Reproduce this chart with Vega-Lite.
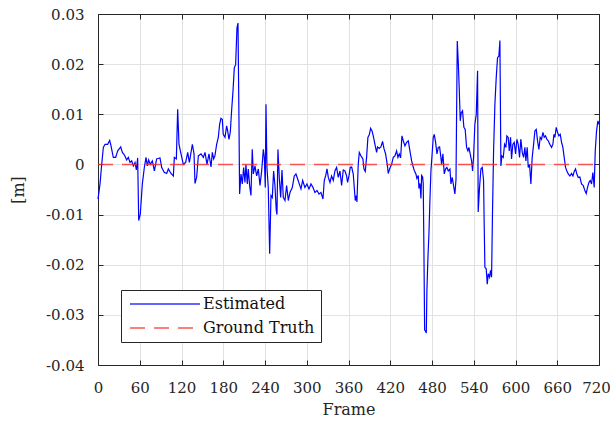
{
  "$schema": "https://vega.github.io/schema/vega-lite/v6.json",
  "autosize": "none",
  "width": 501,
  "height": 351,
  "padding": {"left": 98, "top": 14, "right": 11, "bottom": 58},
  "background": "white",
  "config": {
    "font": "DejaVu Serif",
    "view": {"stroke": null},
    "axis": {
      "labelFont": "DejaVu Serif",
      "titleFont": "DejaVu Serif",
      "labelFontSize": 15,
      "titleFontSize": 16,
      "titleFontWeight": "normal",
      "labelColor": "#262626",
      "titleColor": "#262626",
      "domainColor": "#262626",
      "tickColor": "#262626",
      "gridColor": "#e2e2e2",
      "gridWidth": 1,
      "tickSize": -5,
      "domainWidth": 1
    },
    "legend": {
      "labelFont": "DejaVu Serif",
      "labelFontSize": 16,
      "labelColor": "#111111"
    }
  },
  "datasets": {
    "estimated": [
      {"frame": 0, "value": -0.0069}, {"frame": 2.9, "value": -0.0039}, {"frame": 5.3, "value": 0.0}, {"frame": 7.7, "value": 0.0034},
      {"frame": 10.1, "value": 0.004}, {"frame": 13.9, "value": 0.004}, {"frame": 16.8, "value": 0.0048}, {"frame": 18.7, "value": 0.0037},
      {"frame": 22, "value": 0.0014}, {"frame": 25.4, "value": 0.0014}, {"frame": 28.3, "value": 0.0027}, {"frame": 32.6, "value": 0.0035},
      {"frame": 35, "value": 0.0024}, {"frame": 37.9, "value": 0.0019}, {"frame": 41.2, "value": 0.0009}, {"frame": 43.6, "value": 0.0014},
      {"frame": 46, "value": 0.0004}, {"frame": 48.4, "value": 0.0007}, {"frame": 50.8, "value": -0.0003}, {"frame": 53.2, "value": 0.0004},
      {"frame": 55.1, "value": -0.0011}, {"frame": 57, "value": 0.0013}, {"frame": 58.5, "value": -0.0112}, {"frame": 60.8, "value": -0.0099},
      {"frame": 63.7, "value": -0.0039}, {"frame": 66.6, "value": -0.0006}, {"frame": 69, "value": 0.0014}, {"frame": 70.9, "value": -0.0003},
      {"frame": 72.8, "value": 0.0009}, {"frame": 75.2, "value": 0.0}, {"frame": 78.1, "value": 0.0007}, {"frame": 81, "value": -0.0013},
      {"frame": 84.3, "value": 0.0011}, {"frame": 89.1, "value": 0.0013}, {"frame": 91.5, "value": -0.0006}, {"frame": 95.3, "value": -0.0016},
      {"frame": 98.7, "value": -0.0018}, {"frame": 101.1, "value": -0.0009}, {"frame": 104.9, "value": -0.0018}, {"frame": 108.3, "value": -0.0023},
      {"frame": 109.7, "value": 0.0014}, {"frame": 112.6, "value": 0.0011}, {"frame": 114.5, "value": 0.011}, {"frame": 116.4, "value": 0.004},
      {"frame": 119.3, "value": 0.0021}, {"frame": 122.6, "value": 0.0}, {"frame": 126, "value": 0.0004}, {"frame": 128.9, "value": 0.0024},
      {"frame": 131.3, "value": 0.0004}, {"frame": 135.6, "value": 0.004}, {"frame": 138, "value": 0.0021}, {"frame": 139.4, "value": -0.0038},
      {"frame": 141.8, "value": -0.0025}, {"frame": 144.2, "value": 0.0017}, {"frame": 148, "value": 0.0021}, {"frame": 151.4, "value": 0.0014},
      {"frame": 153.8, "value": 0.0024}, {"frame": 156.6, "value": 0.0}, {"frame": 159.5, "value": 0.0021}, {"frame": 162.4, "value": -0.0005},
      {"frame": 164.3, "value": 0.0024}, {"frame": 166.2, "value": 0.0011}, {"frame": 168, "value": 0.0017}, {"frame": 170.5, "value": 0.004},
      {"frame": 172.9, "value": 0.0054}, {"frame": 174.8, "value": 0.008}, {"frame": 176.7, "value": 0.0092}, {"frame": 178.6, "value": 0.009},
      {"frame": 180, "value": 0.006}, {"frame": 182.5, "value": 0.0054}, {"frame": 184.9, "value": 0.0077}, {"frame": 186.3, "value": 0.0067},
      {"frame": 188.2, "value": 0.005}, {"frame": 190.1, "value": 0.0064}, {"frame": 192, "value": 0.0107}, {"frame": 194, "value": 0.0146},
      {"frame": 195.9, "value": 0.0193}, {"frame": 197.8, "value": 0.0199}, {"frame": 199.7, "value": 0.0272}, {"frame": 201.2, "value": 0.0282},
      {"frame": 202.6, "value": 0.0087}, {"frame": 203.5, "value": -0.0059}, {"frame": 205.5, "value": -0.0019}, {"frame": 207.4, "value": -0.0039},
      {"frame": 209.3, "value": -0.0006}, {"frame": 211.2, "value": -0.0036}, {"frame": 212.6, "value": 0.0}, {"frame": 214.6, "value": -0.0039},
      {"frame": 216, "value": -0.0009}, {"frame": 217.9, "value": -0.0042}, {"frame": 219.8, "value": -0.0062}, {"frame": 221.7, "value": 0.003},
      {"frame": 223.2, "value": -0.0019}, {"frame": 225.6, "value": -0.0003}, {"frame": 228, "value": -0.0023}, {"frame": 230.4, "value": -0.0009},
      {"frame": 232.8, "value": -0.0042}, {"frame": 235.2, "value": -0.0013}, {"frame": 237.6, "value": 0.003}, {"frame": 239, "value": 0.0014},
      {"frame": 240.4, "value": -0.0046}, {"frame": 241.4, "value": 0.012}, {"frame": 242.8, "value": -0.0006}, {"frame": 244.7, "value": -0.0046},
      {"frame": 246.7, "value": -0.0178}, {"frame": 248.6, "value": -0.0062}, {"frame": 250.5, "value": -0.0066}, {"frame": 252.4, "value": -0.0013},
      {"frame": 254.3, "value": -0.0042}, {"frame": 256.2, "value": -0.0092}, {"frame": 257.2, "value": -0.01}, {"frame": 258.6, "value": 0.003},
      {"frame": 260.5, "value": -0.0026}, {"frame": 262.5, "value": -0.0066}, {"frame": 264.4, "value": -0.0011}, {"frame": 266.3, "value": -0.0066},
      {"frame": 268.7, "value": -0.0072}, {"frame": 271.1, "value": -0.0042}, {"frame": 273.5, "value": -0.0072}, {"frame": 275.9, "value": -0.0056},
      {"frame": 279.2, "value": -0.0046}, {"frame": 282.1, "value": -0.0023}, {"frame": 284.5, "value": -0.0019}, {"frame": 286.9, "value": -0.0029},
      {"frame": 289.3, "value": -0.0039}, {"frame": 291.7, "value": -0.0049}, {"frame": 294.1, "value": -0.0032}, {"frame": 297.4, "value": -0.0046},
      {"frame": 300.3, "value": -0.0039}, {"frame": 303.2, "value": -0.0049}, {"frame": 306.1, "value": -0.0039}, {"frame": 309, "value": -0.0046},
      {"frame": 311.8, "value": -0.0056}, {"frame": 314.7, "value": -0.0052}, {"frame": 317.6, "value": -0.0059}, {"frame": 320.4, "value": -0.0056},
      {"frame": 323.3, "value": -0.0069}, {"frame": 325.2, "value": -0.0032}, {"frame": 327.1, "value": -0.0023}, {"frame": 329.1, "value": -0.0009},
      {"frame": 331, "value": -0.0026}, {"frame": 333.4, "value": -0.0036}, {"frame": 335.7, "value": -0.0023}, {"frame": 338.1, "value": -0.0032},
      {"frame": 340.5, "value": -0.0013}, {"frame": 342.9, "value": -0.0006}, {"frame": 345.3, "value": -0.0026}, {"frame": 347.7, "value": -0.0013},
      {"frame": 350.1, "value": -0.0042}, {"frame": 352.5, "value": -0.0011}, {"frame": 354.9, "value": -0.0013}, {"frame": 357.3, "value": -0.0023},
      {"frame": 358.7, "value": -0.0036}, {"frame": 360.6, "value": -0.0023}, {"frame": 362.5, "value": -0.0006}, {"frame": 364.5, "value": -0.0005},
      {"frame": 366.8, "value": -0.0019}, {"frame": 368.3, "value": -0.0046}, {"frame": 369.7, "value": -0.0072}, {"frame": 371.2, "value": -0.0062},
      {"frame": 372.1, "value": -0.0075}, {"frame": 374, "value": 0.0}, {"frame": 375.5, "value": 0.0024}, {"frame": 377.9, "value": 0.0017},
      {"frame": 380.7, "value": 0.0011}, {"frame": 382.2, "value": -0.0009}, {"frame": 384.1, "value": -0.0014}, {"frame": 386, "value": 0.0014},
      {"frame": 387.9, "value": 0.0054}, {"frame": 389.8, "value": 0.0059}, {"frame": 391.8, "value": 0.0072}, {"frame": 393.7, "value": 0.0067},
      {"frame": 395.6, "value": 0.0057}, {"frame": 398, "value": 0.004}, {"frame": 400.4, "value": 0.0024}, {"frame": 401.8, "value": 0.0035},
      {"frame": 404.2, "value": 0.0032}, {"frame": 406.6, "value": 0.0035}, {"frame": 409, "value": 0.0046}, {"frame": 410.9, "value": 0.0032},
      {"frame": 413.3, "value": 0.0021}, {"frame": 415.7, "value": 0.0}, {"frame": 417.1, "value": -0.0018}, {"frame": 419.1, "value": -0.0009},
      {"frame": 421.9, "value": 0.0}, {"frame": 424.3, "value": 0.0014}, {"frame": 426.7, "value": 0.0017}, {"frame": 429.1, "value": 0.0027},
      {"frame": 431, "value": 0.0014}, {"frame": 432.9, "value": 0.0021}, {"frame": 434.9, "value": 0.0013}, {"frame": 436.8, "value": 0.0057},
      {"frame": 438.7, "value": 0.0047}, {"frame": 441.1, "value": 0.0037}, {"frame": 443.5, "value": 0.0044}, {"frame": 445.9, "value": 0.0047},
      {"frame": 448.3, "value": 0.0027}, {"frame": 450.7, "value": 0.0007}, {"frame": 452.6, "value": -0.0003}, {"frame": 454.5, "value": -0.0012},
      {"frame": 456.9, "value": -0.0019}, {"frame": 458.3, "value": -0.0028}, {"frame": 460.3, "value": -0.0022}, {"frame": 461.2, "value": -0.0048},
      {"frame": 462.7, "value": -0.0038}, {"frame": 464.1, "value": -0.0068}, {"frame": 465.1, "value": -0.0022}, {"frame": 466.5, "value": -0.0025},
      {"frame": 467.4, "value": -0.0038}, {"frame": 468.4, "value": -0.0171}, {"frame": 469.4, "value": -0.033}, {"frame": 470.8, "value": -0.0333},
      {"frame": 471.8, "value": -0.0336}, {"frame": 472.7, "value": -0.025}, {"frame": 474.2, "value": -0.0184}, {"frame": 475.6, "value": -0.0138},
      {"frame": 477, "value": -0.0072}, {"frame": 478.5, "value": -0.0012}, {"frame": 479.9, "value": 0.0015}, {"frame": 481.8, "value": 0.0054},
      {"frame": 483.2, "value": 0.006}, {"frame": 485.2, "value": 0.0044}, {"frame": 487.1, "value": 0.0021}, {"frame": 489, "value": 0.0034},
      {"frame": 490.9, "value": 0.0035}, {"frame": 492.8, "value": 0.0014}, {"frame": 493.8, "value": 0.0}, {"frame": 495.7, "value": 0.0021},
      {"frame": 497.6, "value": -0.0019}, {"frame": 499.5, "value": -0.0009}, {"frame": 501.4, "value": -0.0006}, {"frame": 503.4, "value": -0.0013},
      {"frame": 505.8, "value": -0.0009}, {"frame": 507.2, "value": -0.0039}, {"frame": 509.1, "value": -0.0026}, {"frame": 510.6, "value": -0.0039},
      {"frame": 512.9, "value": -0.0059}, {"frame": 514.5, "value": -0.003}, {"frame": 516.3, "value": 0.0246}, {"frame": 517.7, "value": 0.0206},
      {"frame": 519.1, "value": 0.0153}, {"frame": 520.6, "value": 0.0087}, {"frame": 522, "value": 0.0103}, {"frame": 523.9, "value": 0.0107},
      {"frame": 525.8, "value": 0.0074}, {"frame": 527.7, "value": 0.007}, {"frame": 529.7, "value": 0.0034}, {"frame": 531.6, "value": 0.0027},
      {"frame": 533, "value": 0.0034}, {"frame": 534.9, "value": 0.0021}, {"frame": 536.9, "value": 0.0007}, {"frame": 538.3, "value": -0.0013},
      {"frame": 539.7, "value": 0.0014}, {"frame": 541.6, "value": 0.008}, {"frame": 543.6, "value": 0.01}, {"frame": 545.5, "value": 0.0187},
      {"frame": 546.4, "value": -0.0095}, {"frame": 548.3, "value": -0.0046}, {"frame": 550.3, "value": -0.0009}, {"frame": 552.2, "value": -0.0006},
      {"frame": 554.1, "value": -0.0032}, {"frame": 555, "value": -0.0119}, {"frame": 556, "value": -0.0205}, {"frame": 557.9, "value": -0.0208},
      {"frame": 559.4, "value": -0.0239}, {"frame": 560.8, "value": -0.0218}, {"frame": 562.7, "value": -0.0225}, {"frame": 564.2, "value": -0.0211},
      {"frame": 565.6, "value": -0.0225}, {"frame": 567, "value": -0.0092}, {"frame": 568.5, "value": 0.0027}, {"frame": 570.4, "value": 0.012},
      {"frame": 572.3, "value": 0.0173}, {"frame": 574.2, "value": 0.0213}, {"frame": 576.1, "value": 0.0216}, {"frame": 577.6, "value": 0.0247},
      {"frame": 579, "value": -0.0003}, {"frame": 580.4, "value": 0.0017}, {"frame": 582.4, "value": 0.0014}, {"frame": 584.3, "value": 0.004},
      {"frame": 586.2, "value": 0.0034}, {"frame": 587.6, "value": 0.0057}, {"frame": 589.5, "value": 0.0054}, {"frame": 591, "value": 0.0027},
      {"frame": 592.9, "value": 0.0054}, {"frame": 594.3, "value": 0.0011}, {"frame": 596.2, "value": 0.004}, {"frame": 598.2, "value": 0.0044},
      {"frame": 600.1, "value": 0.0021}, {"frame": 602, "value": 0.005}, {"frame": 603.9, "value": 0.004}, {"frame": 605.8, "value": 0.0014},
      {"frame": 607.7, "value": 0.005}, {"frame": 609.7, "value": 0.0024}, {"frame": 611.6, "value": 0.0014}, {"frame": 613.5, "value": 0.0034},
      {"frame": 614.9, "value": 0.0007}, {"frame": 616.8, "value": 0.0034}, {"frame": 618.3, "value": -0.0006}, {"frame": 620.2, "value": 0.0},
      {"frame": 622.1, "value": -0.0039}, {"frame": 624, "value": 0.0014}, {"frame": 626, "value": 0.004}, {"frame": 627.9, "value": 0.0067},
      {"frame": 629.8, "value": 0.007}, {"frame": 631.7, "value": 0.0047}, {"frame": 633.6, "value": 0.003}, {"frame": 635.5, "value": 0.0054},
      {"frame": 637.4, "value": 0.005}, {"frame": 639.4, "value": 0.0064}, {"frame": 641.3, "value": 0.0054}, {"frame": 643.2, "value": 0.0057},
      {"frame": 645.1, "value": 0.005}, {"frame": 647, "value": 0.0047}, {"frame": 649.4, "value": 0.004}, {"frame": 651.8, "value": 0.0034},
      {"frame": 653.7, "value": 0.004}, {"frame": 655.2, "value": 0.006}, {"frame": 656.6, "value": 0.0054}, {"frame": 658.5, "value": 0.0074},
      {"frame": 660.4, "value": 0.0064}, {"frame": 662.3, "value": 0.0057}, {"frame": 664.3, "value": 0.006}, {"frame": 666.2, "value": 0.0044},
      {"frame": 668.1, "value": 0.0034}, {"frame": 670, "value": 0.0014}, {"frame": 671.9, "value": -0.0006}, {"frame": 673.8, "value": -0.0013},
      {"frame": 675.8, "value": -0.0019}, {"frame": 678.2, "value": -0.0023}, {"frame": 680.6, "value": -0.0018}, {"frame": 682.5, "value": -0.0023},
      {"frame": 684.4, "value": -0.0014}, {"frame": 686.3, "value": -0.0009}, {"frame": 688.2, "value": -0.0019}, {"frame": 690.1, "value": -0.0026},
      {"frame": 692.5, "value": -0.0025}, {"frame": 694.9, "value": -0.0039}, {"frame": 697.3, "value": -0.0042}, {"frame": 699.7, "value": -0.0052},
      {"frame": 701.6, "value": -0.0058}, {"frame": 703.5, "value": -0.0046}, {"frame": 705.5, "value": -0.0036}, {"frame": 707.4, "value": -0.0032},
      {"frame": 709.3, "value": -0.0039}, {"frame": 711.2, "value": -0.0016}, {"frame": 713.1, "value": -0.0046}, {"frame": 714.6, "value": 0.0027},
      {"frame": 716.5, "value": 0.0067}, {"frame": 718.4, "value": 0.0087}, {"frame": 719.8, "value": 0.008}
    ],
    "truth": [
      {"frame": 0, "value": 0},
      {"frame": 720, "value": 0}
    ]
  },
  "layer": [
    {
      "data": {"name": "estimated"},
      "transform": [{"calculate": "'Estimated'", "as": "series"}],
      "mark": {"type": "line", "strokeWidth": 1.2, "interpolate": "linear"},
      "encoding": {
        "x": {
          "field": "frame", "type": "quantitative",
          "scale": {"domain": [0, 720], "nice": false, "zero": false},
          "axis": {
            "orient": "bottom", "title": "Frame",
            "values": [0, 60, 120, 180, 240, 300, 360, 420, 480, 540, 600, 660, 720],
            "grid": true, "labelPadding": 20, "titlePadding": 6, "labelFlush": false,
            "labelOffset": {"condition": {"test": "datum.value == 720", "value": -3}, "value": 0}
          }
        },
        "y": {
          "field": "value", "type": "quantitative",
          "scale": {"domain": [-0.04, 0.03], "nice": false, "zero": false},
          "axis": {
            "orient": "left", "title": "[m]",
            "values": [-0.04, -0.03, -0.02, -0.01, 0, 0.01, 0.02, 0.03],
            "labelExpr": "datum.value == 0 ? '0' : replace(format(datum.value, '.2f'), '\u2212', '-')",
            "grid": true, "labelPadding": 19, "titlePadding": 19, "labelFlush": false
          }
        },
        "color": {
          "field": "series", "type": "nominal",
          "scale": {"domain": ["Estimated", "Ground Truth"], "range": ["#0000ff", "#ff2a2a"]},
          "legend": {
            "orient": "none", "legendX": 23, "legendY": 276, "title": null,
            "symbolType": "M-1,0H13", "symbolSize": 100, "symbolStrokeWidth": 1.3,
            "fillColor": "white", "strokeColor": "#262626", "padding": 6,
            "rowPadding": 8, "labelOffset": 60, "symbolOpacity": 0.8
          }
        },
        "strokeDash": {
          "field": "series", "type": "nominal",
          "scale": {"domain": ["Estimated", "Ground Truth"], "range": [[1, 0], [15, 9]]},
          "legend": {
            "orient": "none", "legendX": 23, "legendY": 276, "title": null,
            "symbolType": "M-1,0H13", "symbolSize": 100, "symbolStrokeWidth": 1.3,
            "fillColor": "white", "strokeColor": "#262626", "padding": 6,
            "rowPadding": 8, "labelOffset": 60, "symbolOpacity": 0.8
          }
        }
      }
    },
    {
      "data": {"name": "truth"},
      "transform": [{"calculate": "'Ground Truth'", "as": "series"}],
      "mark": {"type": "line", "strokeWidth": 1.5, "opacity": 0.8},
      "encoding": {
        "x": {
          "field": "frame", "type": "quantitative",
          "axis": {
            "orient": "top", "title": null, "labels": false, "grid": false,
            "values": [0, 60, 120, 180, 240, 300, 360, 420, 480, 540, 600, 660, 720]
          }
        },
        "y": {
          "field": "value", "type": "quantitative",
          "axis": {
            "orient": "right", "title": null, "labels": false, "grid": false,
            "values": [-0.04, -0.03, -0.02, -0.01, 0, 0.01, 0.02, 0.03]
          }
        },
        "color": {"field": "series", "type": "nominal"},
        "strokeDash": {"field": "series", "type": "nominal"}
      }
    }
  ],
  "resolve": {"axis": {"x": "independent", "y": "independent"}}
}
